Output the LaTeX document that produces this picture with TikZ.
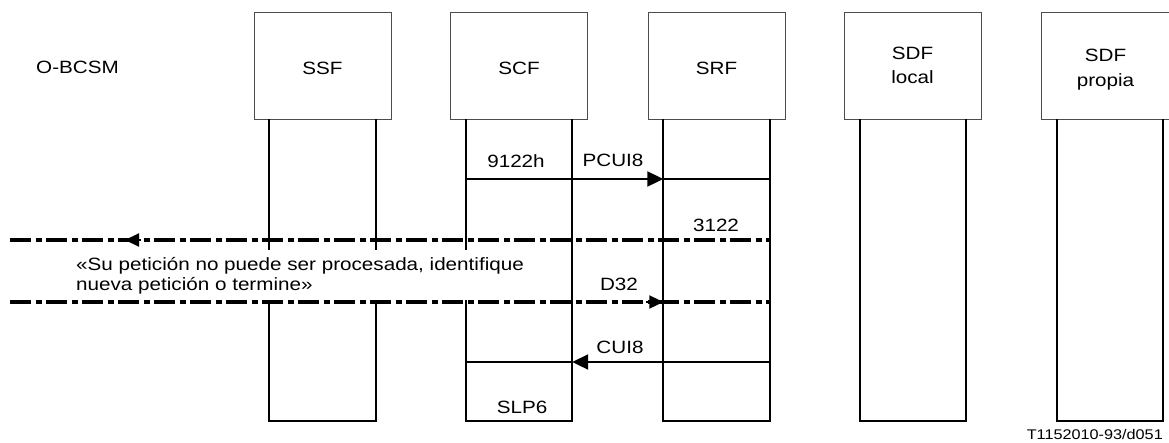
\documentclass[tikz,border=0pt]{standalone}
\usepackage{fontspec}
\setmainfont{Liberation Sans}[FakeStretch=1.16]
\usetikzlibrary{arrows.meta,positioning}

\begin{document}
\begin{tikzpicture}[x=1pt,y=-1pt,
  font=\fontsize{17.8}{24}\selectfont,
  ent/.style={draw=black!70,line width=1pt,minimum width=137pt,minimum height=107pt,inner sep=0pt},
  life/.style={minimum width=106pt,minimum height=302pt,inner sep=0pt},
  msg/.style={line width=2.1pt},
  dashdot/.style={line width=3.4pt,dash pattern=on 21pt off 4.5pt on 6pt off 4.5pt},
  tip/.style={-{Triangle[length=16pt,width=15pt]}},
  tipS/.style={-{Triangle[length=14pt,width=13pt]}},
  lbl/.style={anchor=base,inner sep=0pt}]
 \useasboundingbox (0,0) rectangle (1169,442);
 % entities and their lifelines
 \foreach \nm/\cx in {ssf/322.5,scf/519,srf/716.5,sdfl/913,sdfp/1110}{
   \node[ent] (\nm) at (\cx,65.5) {};
   \node[life] (\nm L) at (\cx,270) {};
   \draw[msg] (\nm L.north west) -- (\nm L.south west) -- (\nm L.south east) -- (\nm L.north east);
 }
 \node[anchor=base west,inner sep=0pt] (bcsm) at (36,73) {O-BCSM};
 \node[lbl] (ssft) at (322.5,74) {SSF};
 \node[lbl] (scft) at (519,74) {SCF};
 \node[lbl] (srft) at (716.5,74) {SRF};
 \node[anchor=north,align=center,inner sep=0pt] (sdflt) at (912.5,47.3) {SDF\\local};
 \node[anchor=north,align=center,inner sep=0pt,font=\fontsize{17.8}{25}\selectfont] (sdfpt) at (1105.5,49.3) {SDF\\propia};

 % PCUI8
 \coordinate (m1) at (0,179);
 \draw[msg,tip] (scfL.west |- m1) -- (srfL.west |- m1);
 \draw[msg] (srfL.west |- m1) -- (srfL.east |- m1);
 \node[lbl] (m1a) at (516,167) {9122h};
 \node[lbl] (m1b) at (613,166) {PCUI8};

 % announcement
 \node[anchor=base west,fill=white,align=left,inner xsep=3pt,inner ysep=6.5pt,
   font=\fontsize{17.8}{20}\selectfont] (note) at (73,290)
   {«Su petición no puede ser procesada, identifique\\nueva petición o termine»};
 \coordinate (d1end) at (10,240);
 \coordinate (d1tip) at (125,240);
 \coordinate (d1a) at (141,240);
 \draw[dashdot] (d1end) -- (srfL.east |- d1end);
 \draw[msg,tipS] (d1a) -- (d1tip);
 \node[lbl] (d1t) at (716,231) {3122};

 \coordinate (d2end) at (10,302);
 \coordinate (d2a) at (646,302);
 \draw[dashdot] (d2end) -- (srfL.east |- d2end);
 \draw[msg,tipS] (d2a) -- (srfL.west |- d2a);
 \node[lbl] (d2t) at (619,290) {D32};

 % CUI8
 \coordinate (m2) at (0,362);
 \draw[msg,tip] (srfL.east |- m2) -- (scfL.east |- m2);
 \draw[msg] (scfL.east |- m2) -- (scfL.west |- m2);
 \node[lbl] (m2t) at (620,353) {CUI8};
 \node[lbl] (slp) at (522,413) {SLP6};

 \node[anchor=base east,inner sep=0pt,font=\fontsize{14}{16}\selectfont] (fig) at (1163,439) {T1152010-93/d051};
\end{tikzpicture}
\end{document}
